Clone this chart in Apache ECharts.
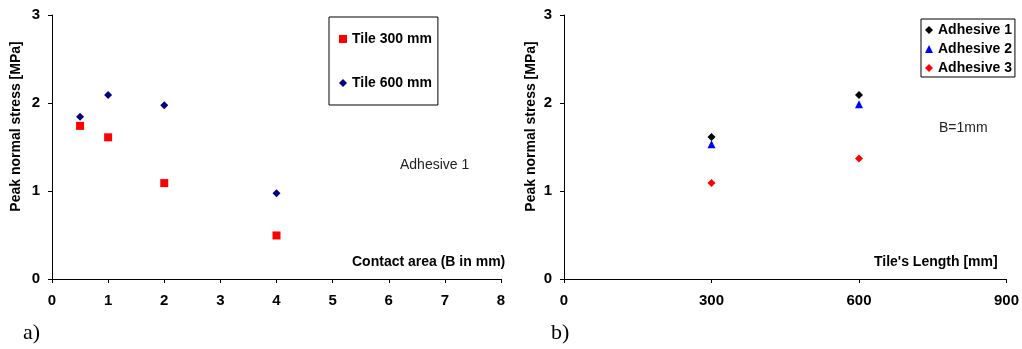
<!DOCTYPE html>
<html>
<head>
<meta charset="utf-8">
<script src="https://cdn.jsdelivr.net/npm/echarts@6/dist/echarts.min.js"></script>
<style>html,body{margin:0;padding:0;background:#fff}#c{width:1022px;height:349px}</style>
</head>
<body>
<div id="c"></div>
<script>
// Panel a) : Adhesive 1, contact area B (mm)
const contactB = [0.5, 1, 2, 4];
const tile300 = [1.74, 1.61, 1.09, 0.495];
const tile600 = [1.845, 2.09, 1.975, 0.975];
// Panel b) : B = 1 mm, tile length (mm)
const tileLength = [300, 600];
const adhesive1 = [1.615, 2.09];
const adhesive2 = [1.53, 1.985];
const adhesive3 = [1.09, 1.37];
const xTicksA = [0, 8, 1];
const xTicksB = [0, 900, 300];
const yTicks = [0, 3, 1];

const pair = (xs, ys) => xs.map((x, i) => [x, ys[i]]);
const FONT = 'Liberation Sans, Arial, sans-serif';

const chart = echarts.init(document.getElementById('c'), null, {renderer: 'canvas'});

function xAxisCfg(idx, t) {
  return {
    gridIndex: idx, type: 'value', min: t[0], max: t[1], interval: t[2],
    axisLine: {onZero: false, lineStyle: {color: '#000', width: 1}},
    axisTick: {show: true, length: 4, inside: false, lineStyle: {color: '#000'}},
    axisLabel: {color: '#000', fontFamily: FONT, fontWeight: 'bold', fontSize: 15, margin: 14},
    splitLine: {show: false}
  };
}
function yAxisCfg(idx, gap) {
  return {
    gridIndex: idx, type: 'value', min: yTicks[0], max: yTicks[1], interval: yTicks[2],
    name: 'Peak normal stress [MPa]', nameLocation: 'middle', nameGap: gap, nameRotate: 90,
    nameTextStyle: {color: '#000', fontFamily: FONT, fontWeight: 'bold', fontSize: 14, padding: [0, 0, 0, 41]},
    axisLine: {show: true, lineStyle: {color: '#000', width: 1}},
    axisTick: {show: true, length: 4, inside: false, lineStyle: {color: '#000'}},
    axisLabel: {color: '#000', fontFamily: FONT, fontWeight: 'bold', fontSize: 15, margin: 12},
    splitLine: {show: false}
  };
}

chart.setOption({
  animation: false,
  backgroundColor: '#fff',
  grid: [
    {left: 52, right: 521, top: 15, bottom: 70},
    {left: 564, right: 14, top: 15, bottom: 70}
  ],
  xAxis: [xAxisCfg(0, xTicksA), xAxisCfg(1, xTicksB)],
  yAxis: [yAxisCfg(0, 29), yAxisCfg(1, 26)],
  legend: [
    {
      data: ['Tile 300 mm', 'Tile 600 mm'], orient: 'vertical',
      left: 329, top: 17, itemWidth: 8, itemHeight: 8, itemGap: 30,
      padding: [15, 6, 15, 10], borderColor: '#000', borderWidth: 1,
      selectedMode: false,
      textStyle: {color: '#000', fontFamily: FONT, fontWeight: 'bold', fontSize: 14}
    },
    {
      data: ['Adhesive 1', 'Adhesive 2', 'Adhesive 3'], orient: 'vertical',
      left: 921, top: 19, itemWidth: 8, itemHeight: 8, itemGap: 5,
      padding: [4, 3, 2, 4], borderColor: '#000', borderWidth: 1,
      selectedMode: false,
      textStyle: {color: '#000', fontFamily: FONT, fontWeight: 'bold', fontSize: 14}
    }
  ],
  series: [
    {name: 'Tile 300 mm', type: 'scatter', xAxisIndex: 0, yAxisIndex: 0, symbol: 'rect', symbolSize: 8,
     itemStyle: {color: '#ff0000', opacity: 1}, data: pair(contactB, tile300)},
    {name: 'Tile 600 mm', type: 'scatter', xAxisIndex: 0, yAxisIndex: 0, symbol: 'diamond', symbolSize: 8,
     itemStyle: {color: '#000080', opacity: 1}, data: pair(contactB, tile600)},
    {name: 'Adhesive 1', type: 'scatter', xAxisIndex: 1, yAxisIndex: 1, symbol: 'diamond', symbolSize: 8,
     itemStyle: {color: '#000', opacity: 1}, data: pair(tileLength, adhesive1)},
    {name: 'Adhesive 2', type: 'scatter', xAxisIndex: 1, yAxisIndex: 1, symbol: 'triangle', symbolSize: 8,
     itemStyle: {color: '#0000ff', opacity: 1}, data: pair(tileLength, adhesive2)},
    {name: 'Adhesive 3', type: 'scatter', xAxisIndex: 1, yAxisIndex: 1, symbol: 'diamond', symbolSize: 8,
     itemStyle: {color: '#ff0000', opacity: 1}, data: pair(tileLength, adhesive3)}
  ],
  graphic: [
    {type: 'text', left: 352, top: 255, style: {text: 'Contact area (B in mm)', fill: '#000', font: 'bold 14px ' + FONT}},
    {type: 'text', left: 874, top: 255, style: {text: "Tile's Length [mm]", fill: '#000', font: 'bold 14px ' + FONT}},
    {type: 'text', left: 400, top: 158, style: {text: 'Adhesive 1', fill: '#222', font: '14px ' + FONT}},
    {type: 'text', left: 939, top: 121, style: {text: 'B=1mm', fill: '#222', font: '14px ' + FONT}},
    {type: 'text', left: 23, top: 322, style: {text: 'a)', fill: '#000', font: '22px "Liberation Serif", "Times New Roman", serif'}},
    {type: 'text', left: 551, top: 322, style: {text: 'b)', fill: '#000', font: '22px "Liberation Serif", "Times New Roman", serif'}}
  ]
});
</script>
</body>
</html>
